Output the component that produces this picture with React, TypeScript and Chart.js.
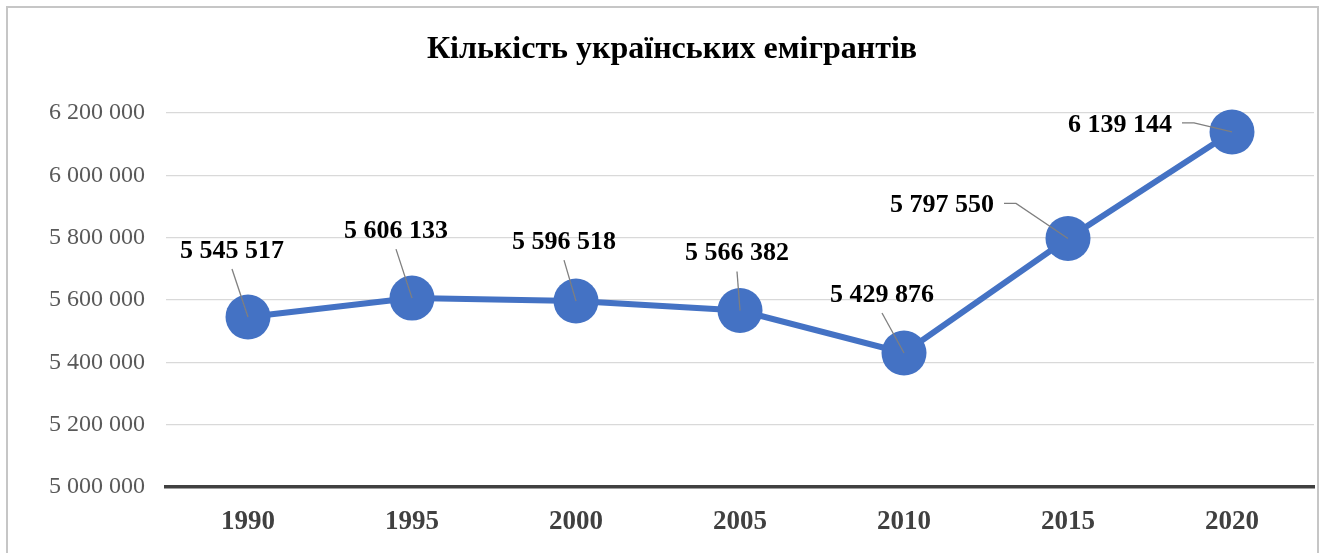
import React, { useEffect, useRef } from "react";
import { Chart, registerables } from "chart.js";

Chart.register(...registerables);

const chartTitle = "Кількість українських емігрантів";
const years = ["1990", "1995", "2000", "2005", "2010", "2015", "2020"];
const emigrants = [5545517, 5606133, 5596518, 5566382, 5429876, 5797550, 6139144];
const yMin = 5000000;
const yMax = 6200000;
const yStep = 200000;
// data label offsets (px) relative to each point
const labelOffsets: [number, number][] = [
  [-16, -66],
  [-16, -67],
  [-12, -59],
  [-3, -57],
  [-22, -58],
  [-126, -33],
  [-112, -7],
];

const SERIF = '"Liberation Serif", "Times New Roman", serif';
const fmt = (v: number) => String(Math.round(v)).replace(/\B(?=(\d{3})+(?!\d))/g, " ");

const framePlugin = {
  id: "frame",
  beforeDraw(chart: any) {
    const ctx = chart.ctx;
    ctx.save();
    ctx.fillStyle = "#ffffff";
    ctx.fillRect(0, 0, chart.width, chart.height);
    ctx.strokeStyle = "#c6c6c6";
    ctx.lineWidth = 2;
    ctx.strokeRect(7, 7, 1311, 700);
    ctx.fillStyle = "#000000";
    ctx.font = `bold 32px ${SERIF}`;
    ctx.textAlign = "center";
    ctx.textBaseline = "middle";
    ctx.fillText(chartTitle, 672, 50);
    ctx.restore();
  },
};

const labelPlugin = {
  id: "dataLabels",
  afterDatasetsDraw(chart: any) {
    const ctx = chart.ctx;
    const meta = chart.getDatasetMeta(0);
    ctx.save();
    ctx.font = `bold 26px ${SERIF}`;
    meta.data.forEach((pt: any, i: number) => {
      const [dx, dy] = labelOffsets[i];
      const lx = pt.x + dx;
      const ly = pt.y + dy;
      const text = fmt(emigrants[i]);
      const w = ctx.measureText(text).width;
      ctx.strokeStyle = "#7f7f7f";
      ctx.lineWidth = 1.3;
      ctx.beginPath();
      if (Math.abs(dx) > 60) {
        const sx = lx + w / 2 + 10;
        const sy = ly - 2;
        ctx.moveTo(sx, sy);
        ctx.lineTo(sx + 12, sy);
        ctx.lineTo(pt.x, pt.y);
      } else {
        ctx.moveTo(lx, ly + 18);
        ctx.lineTo(pt.x, pt.y);
      }
      ctx.stroke();
      ctx.fillStyle = "#000000";
      ctx.textAlign = "center";
      ctx.textBaseline = "middle";
      ctx.fillText(text, lx, ly);
    });
    ctx.restore();
  },
};

export default function App() {
  const ref = useRef<HTMLCanvasElement | null>(null);

  useEffect(() => {
    if (!ref.current) return;
    const chart = new Chart(ref.current, {
      type: "line",
      data: {
        labels: years,
        datasets: [
          {
            data: emigrants,
            borderColor: "#4472C4",
            backgroundColor: "#4472C4",
            borderWidth: 6,
            pointRadius: 22.5,
            pointHoverRadius: 22.5,
            pointBackgroundColor: "#4472C4",
            pointBorderWidth: 0,
            tension: 0,
            clip: false as any,
          },
        ],
      },
      options: {
        responsive: false,
        animation: false,
        events: [],
        layout: {
          autoPadding: false,
          padding: { top: 113, right: 11, bottom: 0, left: 0 },
        },
        plugins: {
          legend: { display: false },
          title: { display: false },
          tooltip: { enabled: false },
        },
        scales: {
          x: {
            offset: true,
            grid: { display: false, drawTicks: false, offset: true },
            border: { display: true, color: "#404040", width: 3.5 },
            ticks: {
              padding: 19,
              color: "#404040",
              font: { family: SERIF, size: 27, weight: "bold" },
              maxRotation: 0,
            },
            afterFit: (scale: any) => {
              scale.height = 66;
            },
          },
          y: {
            min: yMin,
            max: yMax,
            border: { display: false },
            grid: { color: "#d9d9d9", lineWidth: 1.3, drawTicks: false },
            ticks: {
              stepSize: yStep,
              padding: 21,
              color: "#595959",
              font: { family: SERIF, size: 24 },
              callback: (v: any) => fmt(Number(v)),
            },
            afterFit: (scale: any) => {
              scale.width = 166;
            },
          },
        },
      },
      plugins: [framePlugin, labelPlugin],
    });
    return () => chart.destroy();
  }, []);

  return (
    <div style={{ position: "absolute", left: 0, top: 0, width: 1325, height: 553, overflow: "hidden" }}>
      <canvas ref={ref} width={1325} height={553} style={{ display: "block", width: 1325, height: 553 }} />
    </div>
  );
}
